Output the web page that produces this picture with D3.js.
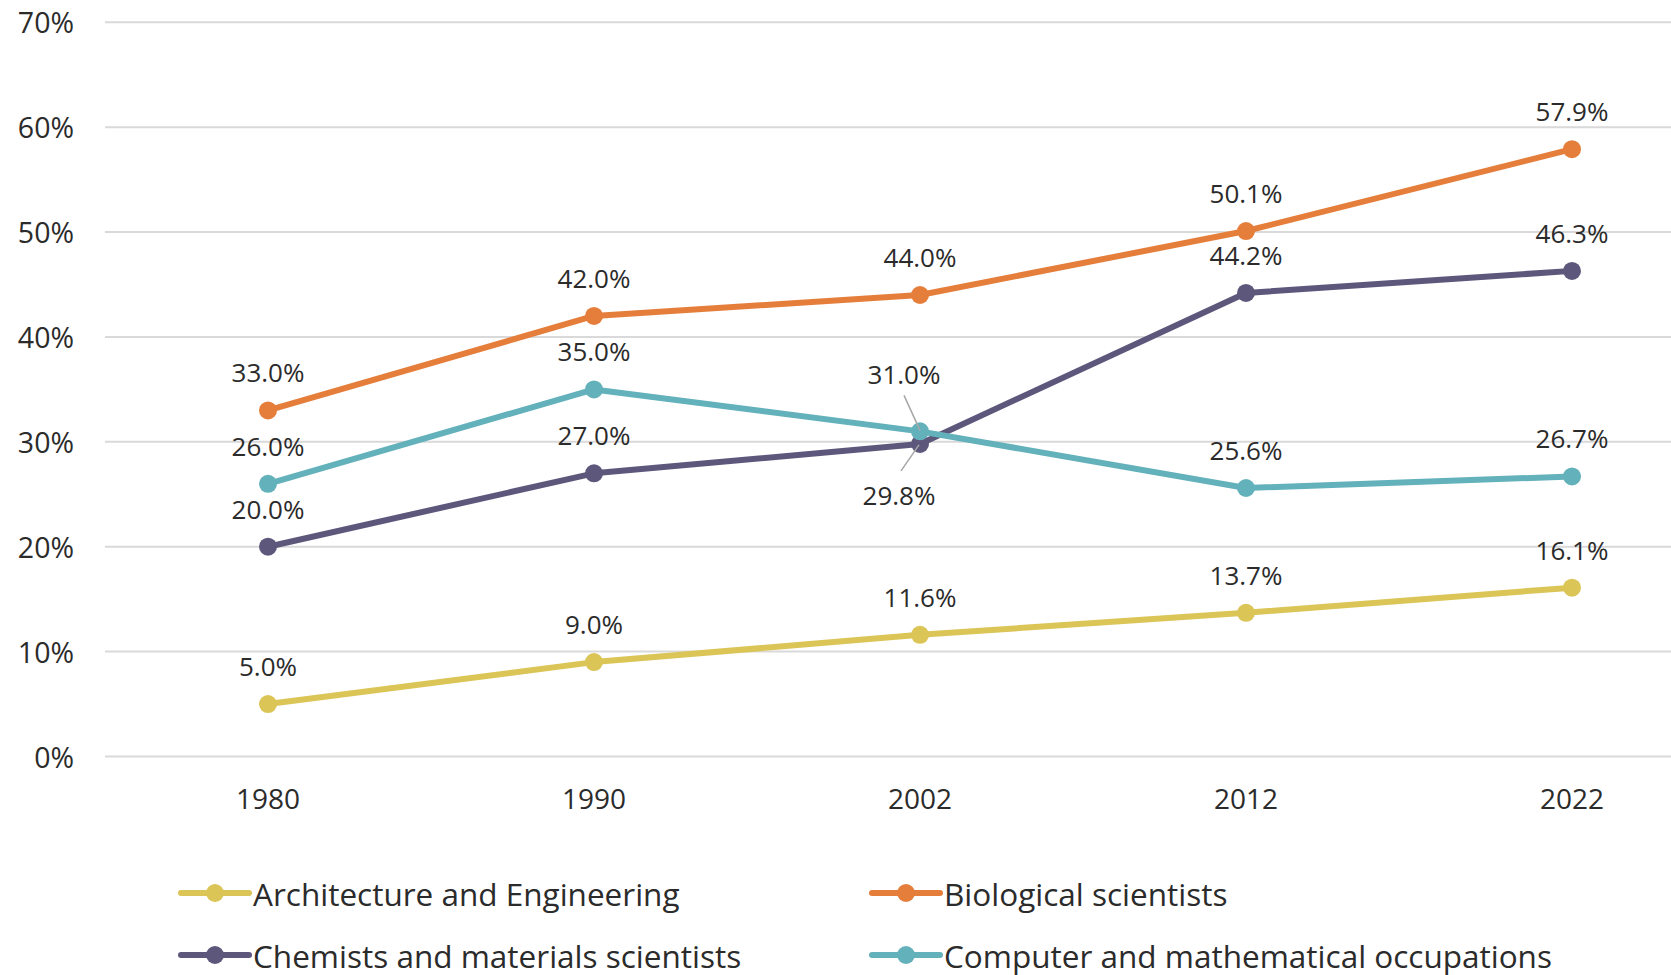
<!DOCTYPE html>
<html>
<head>
<meta charset="utf-8">
<script src="https://cdn.jsdelivr.net/npm/d3@7"></script>
<style>
	body { margin: 0; background: #fff; overflow: hidden; }
	text { font-family: "Open Sans", "Noto Sans", sans-serif; fill: #2b2b2b; }
</style>
</head>
<body>
<script>

// data
const years = ['1980', '1990', '2002', '2012', '2022']
const seriesNames = ['Architecture and Engineering', 'Biological scientists', 'Chemists and materials scientists', 'Computer and mathematical occupations']
const archEng = [5.0, 9.0, 11.6, 13.7, 16.1]
const bioSci = [33.0, 42.0, 44.0, 50.1, 57.9]
const chemSci = [20.0, 27.0, 29.8, 44.2, 46.3]
const compMath = [26.0, 35.0, 31.0, 25.6, 26.7]
const yTicks = [0, 10, 20, 30, 40, 50, 60, 70]

const colors = ['#DBC557', '#E57E3B', '#5E577C', '#63B1BB']
const seriesValues = [archEng, bioSci, chemSci, compMath]

const W = 1671, H = 975

const svg = d3.select('body').append('svg')
	.attr('width', W)
	.attr('height', H)

// the band runs past the right edge, like in the original export
const x = d3.scalePoint().domain(years).range([105, 1735]).padding(0.5)
const y = d3.scaleLinear().domain([0, 70]).range([756.5, 22.3])

//gridlines
svg.append('g').selectAll('line')
	.data(yTicks)
	.join('line')
	.attr('x1', 105).attr('x2', 1735)
	.attr('y1', d => y(d)).attr('y2', d => y(d))
	.style('stroke', '#d9d9d9')
	.style('stroke-width', 2)

//y labels
svg.append('g').selectAll('text')
	.data(yTicks)
	.join('text')
	.attr('x', 74)
	.attr('y', d => y(d))
	.attr('text-anchor', 'end')
	.attr('dominant-baseline', 'central')
	.style('font-size', '28.5px')
	.text(d => d + '%')

//x labels
svg.append('g').selectAll('text')
	.data(years)
	.join('text')
	.attr('x', d => x(d))
	.attr('y', 798)
	.attr('text-anchor', 'middle')
	.attr('dominant-baseline', 'central')
	.style('font-size', '28px')
	.text(d => d)

const line = d3.line()
	.x((d, i) => x(years[i]))
	.y(d => y(d))

// lines, drawn in series order
seriesValues.forEach((vals, s) => {
	let g = svg.append('g')
	g.append('path')
		.attr('d', line(vals))
		.style('fill', 'none')
		.style('stroke', colors[s])
		.style('stroke-width', 6)
		.style('stroke-linejoin', 'round')
	g.selectAll('circle')
		.data(vals)
		.join('circle')
		.attr('cx', (d, i) => x(years[i]))
		.attr('cy', d => y(d))
		.attr('r', 9)
		.style('fill', colors[s])
})

// special label spots where labels would collide: [series, point] -> dx, dy, leader
const labelMoves = {
	'2-2': {dx: -21, dy: 51, leader: [[-19, 27], [-1, 1]]},
	'3-2': {dx: -16, dy: -57, leader: [[-16, -36], [0, -1]]}
}

seriesValues.forEach((vals, s) => {
	vals.forEach((v, i) => {
		let px = x(years[i]), py = y(v)
		let mv = labelMoves[s + '-' + i] || {dx: 0, dy: -38}
		if (mv.leader) {
			svg.append('line')
				.attr('x1', px + mv.leader[0][0]).attr('y1', py + mv.leader[0][1])
				.attr('x2', px + mv.leader[1][0]).attr('y2', py + mv.leader[1][1])
				.style('stroke', '#a6a6a6')
				.style('stroke-width', 1.5)
		}
		svg.append('text')
			.attr('x', px + mv.dx)
			.attr('y', py + mv.dy)
			.attr('text-anchor', 'middle')
			.attr('dominant-baseline', 'central')
			.style('font-size', '26px')
			.text(v.toFixed(1) + '%')
	})
})

//legend
const legX = [181, 872], legY = [893, 955]
seriesNames.forEach((name, s) => {
	let lx = legX[s % 2], ly = legY[Math.floor(s / 2)]
	let g = svg.append('g').attr('transform', 'translate(' + lx + ',' + ly + ')')
	g.append('line')
		.attr('x1', 0).attr('x2', 68)
		.style('stroke', colors[s])
		.style('stroke-width', 6)
		.style('stroke-linecap', 'round')
	g.append('circle').attr('cx', 34).attr('r', 9).style('fill', colors[s])
	g.append('text')
		.attr('x', 72)
		.attr('dominant-baseline', 'central')
		.style('font-size', '31.5px')
		.text(name)
})

</script>
</body>
</html>
